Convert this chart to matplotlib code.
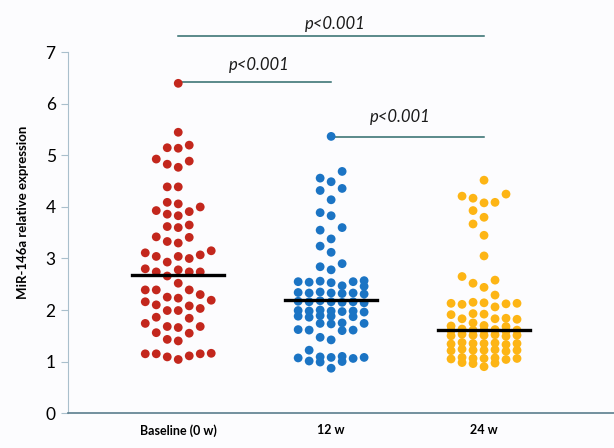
import matplotlib.pyplot as plt
import numpy as np

groups = ['Baseline (0 w)', '12 w', '24 w']
colors = ['#c3271d', '#1b74c4', '#fdb515']

baseline = [6.40, 5.45, 5.15, 5.14, 5.20, 4.93, 4.83, 4.89, 4.77, 4.39, 4.39,
            4.09, 4.06, 3.93, 3.86, 3.83, 3.91, 4.00, 3.65, 3.62, 3.60,
            3.42, 3.33, 3.30, 3.41, 3.15, 3.11, 2.93, 3.04, 3.07, 3.04, 3.00,
            2.80, 2.78, 2.74, 2.66, 2.74, 2.74, 2.52, 2.39, 2.39, 2.39,
            2.30, 2.23, 2.25, 2.16, 2.10, 2.19, 2.08, 2.03, 1.99, 1.99,
            1.84, 1.74, 1.86, 1.68, 1.66, 1.68, 1.56, 1.55, 1.43, 1.40,
            1.16, 1.15, 1.09, 1.04, 1.11, 1.15, 1.15]
week12 = [5.37, 4.69, 4.56, 4.49, 4.36, 4.32, 4.14, 3.89, 3.83, 3.60, 3.55,
          3.38, 3.24, 3.12, 2.90, 2.78, 2.84,
          2.55, 2.56, 2.54, 2.55, 2.57, 2.53, 2.47, 2.46,
          2.33, 2.34, 2.32, 2.33, 2.35, 2.31, 2.33,
          2.16, 2.17, 2.15, 2.16, 2.18, 2.14, 2.16,
          1.98, 1.99, 1.97, 1.98, 1.96, 2.00, 1.98,
          1.88, 1.87, 1.89, 1.88, 1.86,
          1.74, 1.75, 1.73, 1.74, 1.61, 1.62, 1.60, 1.61,
          1.47, 1.42, 1.22, 1.08, 1.09, 1.07, 1.08, 1.10, 1.06,
          1.00, 0.99, 1.01, 0.87]
week24 = [4.52, 4.25, 4.17, 4.09, 4.21, 4.08, 3.93, 3.80, 3.67, 3.45, 3.05,
          2.65, 2.58, 2.52, 2.44, 2.29,
          2.13, 2.14, 2.12, 2.13, 2.15, 2.11, 2.06,
          1.92, 1.93, 1.91, 1.83, 1.84, 1.82, 1.83, 1.75,
          1.69, 1.70, 1.68, 1.61, 1.62, 1.60, 1.61, 1.63, 1.59, 1.61,
          1.51, 1.52, 1.50, 1.51, 1.53, 1.49, 1.51,
          1.35, 1.36, 1.34, 1.35, 1.37, 1.33, 1.35,
          1.22, 1.23, 1.21, 1.22, 1.24, 1.20, 1.22,
          1.06, 1.07, 1.05, 1.06, 1.08, 1.04, 1.06,
          0.97, 0.98, 0.96, 0.90]
data = [baseline, week12, week24]
line_levels = [2.68, 2.19, 1.61]

# significance brackets: (x start, x end, y of line, label x, label y)
brackets = [(0, 2, 7.32, 1.03, 7.56), (0, 1, 6.43, 0.53, 6.76), (1, 2, 5.36, 1.45, 5.74)]

fig = plt.figure(figsize=(6.14, 4.48), dpi=100)
fig.patch.set_facecolor('#fcfcfe')
ax = fig.add_axes([0.111, 0.078, 0.889, 0.897])
ax.set_facecolor('#fcfcfe')
ax.set_xlim(-0.72, 2.85)
ax.set_ylim(0, 7.8)

# simple column-slot swarm layout, in pixel units
px_x = 153.0   # pixels per x unit
px_y = 51.5    # pixels per y unit
slot = 11.0
min_gap = 11.5
order = [0, -1, 1, -2, 2, -3, 3]
for i, vals in enumerate(data):
    vals = np.sort(np.array(vals))
    placed = {k: [] for k in order}
    xs = []
    for v in vals:
        yp = v * px_y
        best = None
        for k in order:
            if all(abs(yp - q) >= min_gap for q in placed[k]):
                best = k
                break
        if best is None:
            best = max(order, key=lambda k: min(abs(yp - q) for q in placed[k]))
        placed[best].append(yp)
        xs.append(i + best * slot / px_x)
    ax.scatter(xs, vals, s=40, color=colors[i], edgecolors='none', zorder=3)
    ax.plot([i - 0.3, i + 0.3], [line_levels[i]] * 2, color='black', lw=2.4, zorder=4)

for x0, x1, yl, tx, ty in brackets:
    ax.plot([x0, x1], [yl, yl], color='#2f6b6b', lw=1.1, clip_on=False)
    ax.text(tx, ty, 'p<0.001', style='italic', fontsize=12, ha='center', va='center',
            family='Lato', color='#1a1a1a')

ax.set_xticks(range(3))
ax.set_xticklabels(groups, fontsize=9, fontweight='bold', family='Lato')
ax.tick_params(axis='x', length=0, pad=8)
ax.set_yticks(range(8))
ax.tick_params(axis='y', labelsize=12.5, length=5, color='#a9bfcc', pad=4)
for lab in ax.get_yticklabels():
    lab.set_family('Lato')
ax.set_ylabel('MiR-146a relative expression', fontsize=9.5, fontweight='bold',
              family='Lato', labelpad=12)

ax.spines['top'].set_visible(False)
ax.spines['right'].set_visible(False)
ax.spines['left'].set_bounds(0, 7)
ax.spines['left'].set_color('#a9bfcc')
ax.spines['bottom'].set_color('#5a7d8e')
ax.spines['bottom'].set_linewidth(1.2)

plt.savefig('out.png', dpi=100, facecolor=fig.get_facecolor())
